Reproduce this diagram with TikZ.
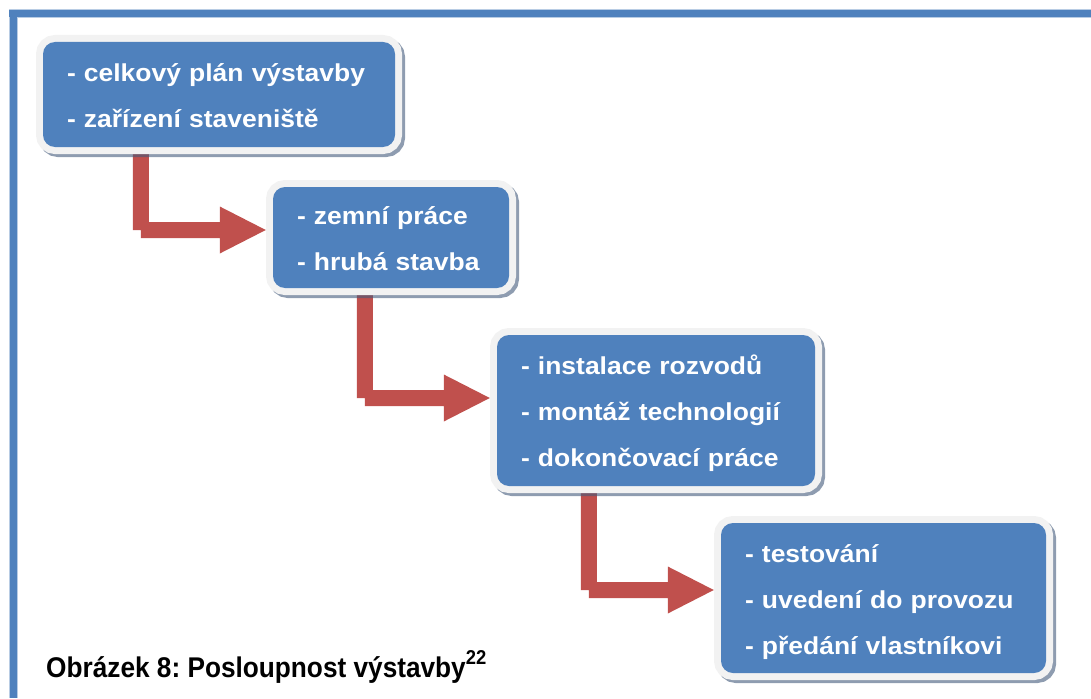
\documentclass[tikz,border=0pt]{standalone}
\usepackage{fontspec}
\usetikzlibrary{calc,shadows}
\newfontfamily\boxfont[FakeStretch=1.08]{Liberation Sans}
\newfontfamily\capfont[FakeStretch=0.92]{Liberation Sans}
\definecolor{boxblue}{HTML}{4F81BD}
\definecolor{rimgray}{HTML}{F2F2F2}
\definecolor{shadowc}{RGB}{67,90,123}
\definecolor{flowred}{HTML}{C0504D}
\definecolor{framelight}{HTML}{B8CCE4}
\pgfdeclarelayer{background}
\pgfsetlayers{background,main}
\frenchspacing
% fixed first-line height and last-line depth, so every box sets its lines alike
\newcommand\firstline{\rule{0pt}{26pt}}
\newcommand\lastline{\rule[-6pt]{0pt}{6pt}}
\tikzset{
  stagebox/.style={fill=boxblue, rounded corners=12pt, text=white,
    font=\boxfont\bfseries\fontsize{24.5}{46}\selectfont,
    align=left, inner xsep=24pt, inner ysep=0pt,
    drop shadow={shadow xshift=3pt, shadow yshift=-3pt, opacity=0.6,
      fill=shadowc, draw=shadowc, line width=14pt},
    preaction={draw=rimgray, line width=14pt}},
  arrowfill/.style={fill=flowred}
}
% elbow block arrow: #1 source box, #2 shaft offset from its left edge,
% #3 target box, #4 vertical offset of the tip from the target's centre
\newcommand\elbowarrow[4]{%
  \fill[arrowfill] let \p1=($(#1.south west)+(#2,0)$), \p2=($(#3.west)+(-7,#4)$) in
    (\x1,\y1) rectangle (\x1+16,\y2)
    (\x1+8,\y2+8) rectangle (\x2-46,\y2-8)
    (\x2-46,\y2+23.5) -- (\x2,\y2) -- (\x2-46,\y2-23.5) -- cycle;}
\begin{document}
\begin{tikzpicture}[x=1pt,y=-1pt]
  \useasboundingbox (0,0) rectangle (1091,698);
  % outer frame (top and left edges)
  \fill[framelight] (9,9.5) rectangle (1091,18.5);
  \fill[framelight] (8.5,9.5) rectangle (17.5,698);
  \fill[boxblue] (9,10.5) rectangle (1091,17.5);
  \fill[boxblue] (9.5,10.5) rectangle (16.5,698);

  % stage boxes
  \node[stagebox, text width=304pt, minimum height=105pt] (b1) at (219,94.5)
    {\firstline- celkový plán výstavby\\- zařízení staveniště\lastline};
  \node[stagebox, text width=188pt, minimum height=101pt] (b2) at (391,237.5)
    {\firstline- zemní práce\\- hrubá stavba\lastline};
  \node[stagebox, text width=270pt, minimum height=151pt] (b3) at (656,410.5)
    {\firstline- instalace rozvodů\\- montáž technologií\\- dokončovací práce\lastline};
  \node[stagebox, text width=277pt, minimum height=150pt] (b4) at (883.5,598)
    {\firstline- testování\\- uvedení do provozu\\- předání vlastníkovi\lastline};

  % connectors, laid under the boxes
  \begin{pgfonlayer}{background}
    \elbowarrow{b1}{90}{b2}{-7.5}
    \elbowarrow{b2}{84}{b3}{-12.5}
    \elbowarrow{b3}{84}{b4}{-8}
  \end{pgfonlayer}

  % caption
  \node[anchor=base west, inner sep=0pt, font=\capfont\bfseries\fontsize{28.5}{30}\selectfont] (cap) at (46,677)
    {Obrázek 8: Posloupnost výstavby\raisebox{13pt}{\fontsize{20}{20}\selectfont 22}};
\end{tikzpicture}
\end{document}
